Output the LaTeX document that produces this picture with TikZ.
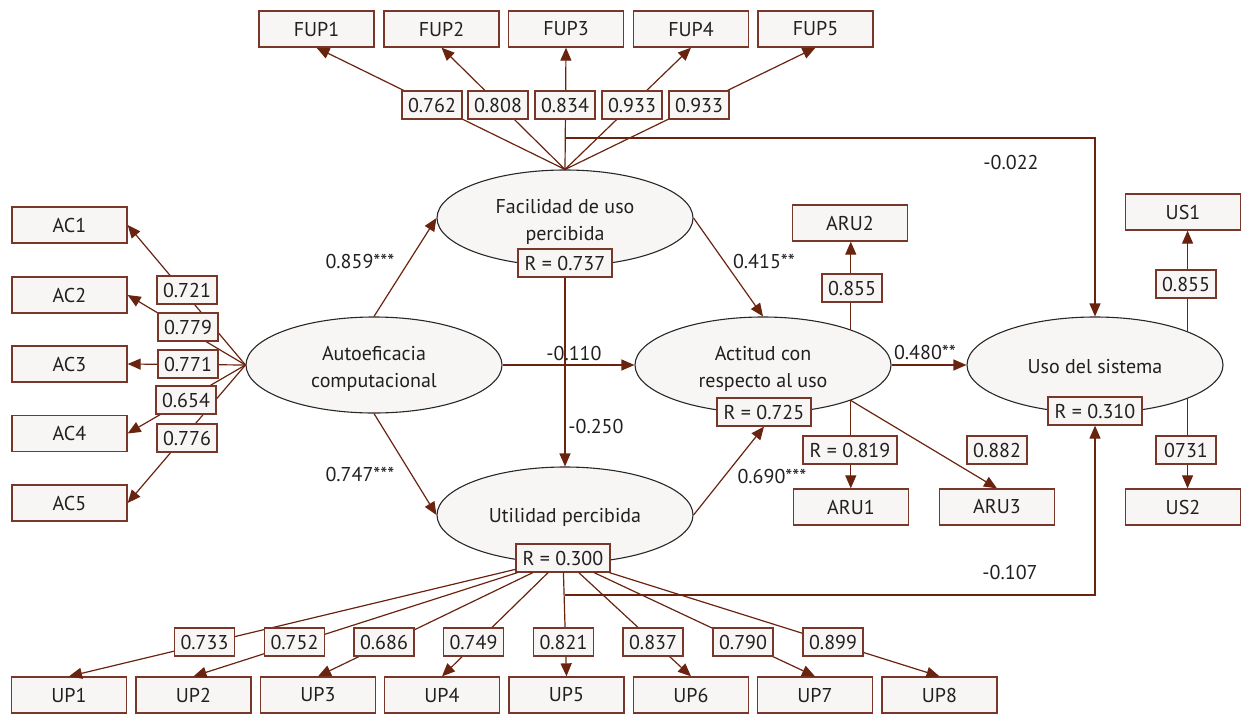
\documentclass[tikz,border=0pt]{standalone}
\usepackage{fontspec}
\setmainfont{PT Sans}
\usetikzlibrary{arrows.meta,shapes.geometric,calc}
\definecolor{linec}{RGB}{105,35,15}
\definecolor{boxc}{RGB}{120,55,40}
\definecolor{fillc}{RGB}{247,246,244}
\definecolor{textc}{RGB}{35,31,32}
\definecolor{ellc}{RGB}{40,40,40}
\begin{document}
\begin{tikzpicture}[x=1pt,y=-1pt,
 every node/.style={text=textc, font=\fontsize{20}{27}\selectfont, inner sep=0pt},
 ind/.style={draw=boxc, fill=fillc, line width=1.3pt, minimum width=115pt, minimum height=36pt},
 lbox/.style={draw=boxc, fill=fillc, line width=1.2pt, minimum width=60pt, minimum height=28pt},
 rbox/.style={draw=boxc, fill=fillc, line width=1.2pt, minimum width=94pt, minimum height=28pt},
 lat/.style={ellipse, draw=ellc, fill=fillc, line width=1.1pt, minimum width=256pt, minimum height=96pt},
 lattext/.style={align=center},
 arr/.style={draw=linec, line width=1.2pt, -{Triangle[length=13pt,width=11pt]}},
]
\useasboundingbox (0,0) rectangle (1241,715);
% latent variables
\node[lat] (fac) at (565,218) {};
\node[lat] (aut) at (374,365) {};
\node[lat] (act) at (763,365) {};
\node[lat] (uso) at (1095,365) {};
\node[lat] (utl) at (565,515) {};
\node[lattext] (facT) at ($(fac)+(0,4)$) {Facilidad de uso\\percibida};
\node[lattext] (autT) at ($(aut)+(0,4)$) {Autoeficacia\\computacional};
\node[lattext] (actT) at ($(act)+(0,4)$) {Actitud con\\respecto al uso};
\node[lattext] (usoT) at ($(uso)+(0,2)$) {Uso del sistema};
\node[lattext] (utlT) at ($(utl)+(0,2)$) {Utilidad percibida};
% R boxes
\node[rbox] (r737) at (565,263) {R = 0.737};
\node[rbox] (r725) at (764,412) {R = 0.725};
\node[rbox] (r310) at (1095,411) {R = 0.310};
\node[rbox] (r300) at (563,558) {R = 0.300};
% indicators
\node[ind] (fup1) at (316.5,29) {FUP1};
\node[ind] (fup2) at (441.5,29) {FUP2};
\node[ind] (fup3) at (566,29) {FUP3};
\node[ind] (fup4) at (691,29) {FUP4};
\node[ind] (fup5) at (815.5,29) {FUP5};
\node[ind] (ac1) at (69.5,225) {AC1};
\node[ind] (ac2) at (69.5,295) {AC2};
\node[ind] (ac3) at (69.5,364) {AC3};
\node[ind] (ac4) at (69.5,433.5) {AC4};
\node[ind] (ac5) at (69.5,503) {AC5};
\node[ind] (aru2) at (850,223) {ARU2};
\node[ind] (aru1) at (851,507) {ARU1};
\node[ind] (aru3) at (997,507) {ARU3};
\node[ind] (us1) at (1183,212) {US1};
\node[ind] (us2) at (1183,507) {US2};
\node[ind] (up1) at (69,695) {UP1};
\node[ind] (up2) at (193.5,695) {UP2};
\node[ind] (up3) at (318,695) {UP3};
\node[ind] (up4) at (442,695) {UP4};
\node[ind] (up5) at (566.5,695) {UP5};
\node[ind] (up6) at (691,695) {UP6};
\node[ind] (up7) at (815,695) {UP7};
\node[ind] (up8) at (939.5,695) {UP8};
% connectors
\foreach \i in {1,...,5} {\draw[arr] (fac.north) -- (fup\i.south);}
\foreach \i in {1,...,5} {\draw[arr] (aut.west) -- (ac\i.east);}
\foreach \i in {1,...,8} {\draw[arr] (r300) -- (up\i.north);}
\coordinate (b1) at (565,138);
\draw[arr] (b1) -| (uso.north);
\coordinate (b2) at (565,595);
\draw[arr] (b2) -| (r310.south);
\draw[arr] (aut.north) -- (fac.west);
\draw[arr] (aut.south) -- (utl.west);
\draw[arr] (aut.east) -- (act.west);
\draw[arr] (r737.south) -- (utl.north);
\draw[arr] (fac.east) -- (act.north);
\draw[arr] (utl.east) -- (r725.south);
\draw[arr] (act.east) -- (uso.west);
\draw[arr] (act.22.5) -- (act.22.5 |- aru2.south);
\draw[arr] (act.-22.5) -- (act.-22.5 |- aru1.north);
\draw[arr] (act.-22.5) -- (aru3.north);
\draw[arr] (uso.20) -- (uso.20 |- us1.south);
\draw[arr] (uso.-20) -- (uso.-20 |- us2.north);
% loading labels
\node[lbox] (lf1) at (432,105) {0.762};
\node[lbox] (lf2) at (498,105) {0.808};
\node[lbox] (lf3) at (565,105) {0.834};
\node[lbox] (lf4) at (632,105) {0.933};
\node[lbox] (lf5) at (699,105) {0.933};
\node[lbox] (la1) at (187,290) {0.721};
\node[lbox] (la2) at (188,327) {0.779};
\node[lbox] (la3) at (188,364) {0.771};
\node[lbox] (la4) at (186,400) {0.654};
\node[lbox] (la5) at (187,438) {0.776};
\node[lbox] (lr2) at (852,288) {0.855};
\node[rbox] (lr1) at (850,450) {R = 0.819};
\node[lbox] (lr3) at (997,450) {0.882};
\node[lbox] (ls1) at (1186,284) {0.855};
\node[lbox] (ls2) at (1186,450) {0731};
\node[lbox] (lu1) at (204.5,642) {0.733};
\node[lbox] (lu2) at (294.5,642) {0.752};
\node[lbox] (lu3) at (384,642) {0.686};
\node[lbox] (lu4) at (473.5,642) {0.749};
\node[lbox] (lu5) at (563.5,642) {0.821};
\node[lbox] (lu6) at (653,642) {0.837};
\node[lbox] (lu7) at (743,642) {0.790};
\node[lbox] (lu8) at (833,642) {0.899};
% path coefficients
\node (p1) at (360,261) {0.859***};
\node (p2) at (360,474) {0.747***};
\node (p3) at (574,353) {-0.110};
\node (p4) at (596,426) {-0.250};
\node (p5) at (764,261) {0.415**};
\node (p6) at (772,476) {0.690***};
\node (p7) at (925,352) {0.480**};
\node (p8) at (1011,162) {-0.022};
\node (p9) at (1010,572) {-0.107};
\end{tikzpicture}
\end{document}
